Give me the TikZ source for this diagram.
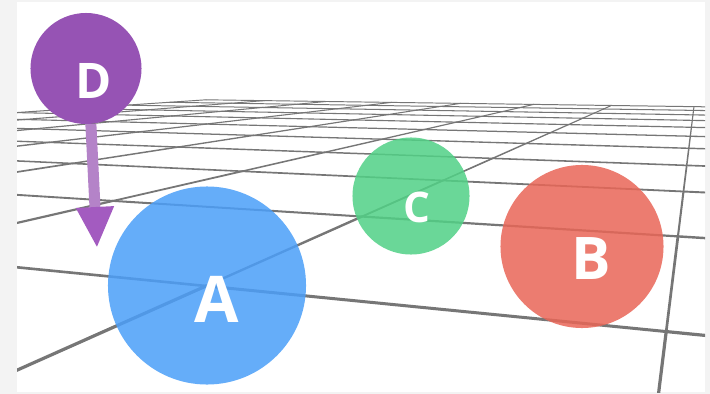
\documentclass[tikz,border=0pt]{standalone}
\usepackage{fontspec}
\setsansfont{Open Sans}
\usetikzlibrary{arrows.meta}

\definecolor{panelgray}{HTML}{F3F3F3}
\definecolor{gridgray}{HTML}{767676}
\definecolor{ballA}{HTML}{4B9FF9}
\definecolor{ballB}{HTML}{E96657}
\definecolor{ballC}{HTML}{51D186}
\definecolor{ballD}{HTML}{9653B4}
\definecolor{dropshaft}{HTML}{B483C8}
\definecolor{drophead}{HTML}{A35BC0}

\begin{document}
\begin{tikzpicture}[x=0.025cm, y=-0.025cm,
  ball/.style={circle, inner sep=0pt, fill opacity=0.85},
  tag/.style={inner sep=0pt, text=white, font=\sffamily\bfseries},
  gridline/.style={draw=gridgray, line cap=round},
  drop/.style={dropshaft, line width=0.275cm,
               -{Triangle[length=1.025cm, width=0.875cm, color=drophead]}}
]
  \useasboundingbox (0,0) rectangle (710,394);
  \fill[panelgray] (0,0) rectangle (710,394);
  \fill[white] (17,2) rectangle (705,392);

  % floor grid, projected with two vanishing points
  % u = i-2 runs to the left, v = j-1 runs into the depth
  \foreach \i in {0,...,8} {
    \foreach \j in {0,...,11} {
      \pgfmathsetmacro\gu{\i-2}
      \pgfmathsetmacro\gv{\j-1}
      \pgfmathsetmacro\gw{0.1735*\gu+0.463*\gv+1}
      \pgfmathsetmacro\gx{(-344.6*\gu+323.6*\gv+206)/\gw}
      \pgfmathsetmacro\gy{(11.97*\gu+30.79*\gv+286)/\gw}
      \coordinate (g-\i-\j) at (\gx,\gy);
    }
  }
  \begin{scope}
    \clip (17,2) rectangle (705,392);
    % lines running into the depth
    \foreach \i in {0,...,8} {
      \foreach \j [evaluate=\j as \jn using int(\j+1)] in {0,...,10} {
        \pgfmathsetmacro\gw{0.1735*(\i-2)+0.463*(\j-0.5)+1}
        \pgfmathsetmacro\lw{min(3.2,0.6+2.2/\gw)*0.025}
        \draw[gridline, line width=\lw cm] (g-\i-\j) -- (g-\i-\jn);
      }
    }
    % lines running across
    \foreach \j in {1,...,11} {
      \foreach \i [evaluate=\i as \in using int(\i+1)] in {0,...,7} {
        \pgfmathsetmacro\gw{0.1735*(\i-1.5)+0.463*(\j-1)+1}
        \pgfmathsetmacro\lw{min(3.2,0.6+2.2/\gw)*0.025}
        \draw[gridline, line width=\lw cm] (g-\i-\j) -- (g-\in-\j);
      }
    }
  \end{scope}

  % balls on the floor
  \node[ball, fill=ballA, minimum size=4.95cm]  (sphA) at (207,285.5) {};
  \node[ball, fill=ballB, minimum size=4.075cm] (sphB) at (582,246.5) {};
  \node[ball, fill=ballC, minimum size=2.925cm] (sphC) at (411,196) {};

  % D drops down
  \node[circle, inner sep=0pt, fill=ballD, minimum size=2.775cm] (sphD) at (86,68.5) {};
  \coordinate (dropD) at (97,248);
  \draw[drop] (sphD.-85) -- (dropD);

  \node[tag, font=\sffamily\bfseries\fontsize{45.8}{46}\selectfont] (labA) at ([shift={(9.5,13.5)}]sphA.center) {A};
  \node[tag, font=\sffamily\bfseries\fontsize{41.8}{42}\selectfont] (labB) at ([shift={(9.5,12.5)}]sphB.center) {B};
  \node[tag, font=\sffamily\bfseries\fontsize{30}{30}\selectfont]   (labC) at ([shift={(6,11.5)}]sphC.center) {C};
  \node[tag, font=\sffamily\bfseries\fontsize{34.9}{35}\selectfont] (labD) at ([shift={(8,12)}]sphD.center) {D};
\end{tikzpicture}
\end{document}
